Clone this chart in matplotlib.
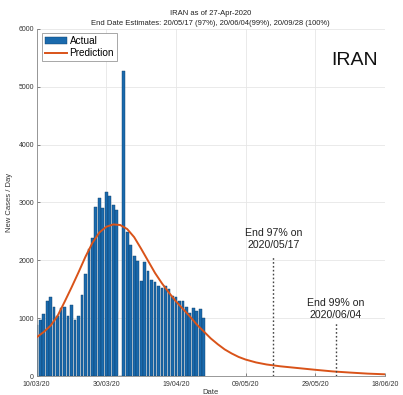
import matplotlib
matplotlib.use("Agg")
import matplotlib.pyplot as plt
import matplotlib.dates as mdates
import numpy as np
import pandas as pd

plt.rcParams['font.family'] = ['Liberation Sans', 'DejaVu Sans']

# daily new cases, starting 10/03/2020
start = '2020-03-10'
actual = [885, 960, 1075, 1293, 1362, 1200, 1046, 1178, 1190, 1046, 1236, 971,
          1029, 1408, 1765, 2196, 2386, 2926, 3076, 2903, 3185, 3116, 2961, 2869,
          0, 5275, 2484, 2271, 2081, 1995, 1638, 1966, 1822, 1661, 1621, 1564,
          1523, 1564, 1506, 1391, 1362, 1293, 1293, 1200, 1086, 1173, 1132, 1161, 1000]

# prediction curve (days after start, cases/day)
pred_days = [0, 2, 4, 6, 8, 10, 12, 14, 16, 18, 20, 22, 24, 26, 28, 30, 32, 34,
             36, 38, 40, 42, 44, 46, 48, 50, 52, 54, 56, 58, 60, 63, 66, 70, 75,
             80, 85, 90, 95, 100]
pred_vals = [670, 760, 870, 1040, 1280, 1530, 1790, 2060, 2300, 2480, 2580, 2620,
             2610, 2540, 2400, 2200, 1990, 1780, 1600, 1440, 1290, 1160, 1030, 890,
             770, 650, 550, 460, 390, 330, 285, 235, 200, 168, 138, 108, 80, 60, 42, 30]

end_dates = ['2020-05-17', '2020-06-04']
end_labels = ['End 97% on\n2020/05/17', 'End 99% on\n2020/06/04']
end_tops = [2070, 910]
end_text_y = [2180, 970]

x_ticks = ['2020-03-10', '2020-03-30', '2020-04-19', '2020-05-09', '2020-05-29', '2020-06-18']

dates = pd.date_range(start, periods=len(actual))
pred_dates = pd.Timestamp(start) + pd.to_timedelta(pred_days, unit='D')

fig = plt.figure(figsize=(4.03, 3.95), dpi=100)
ax = fig.add_axes([0.091, 0.048, 0.864, 0.879])

bars = ax.bar(dates, actual, width=0.8, color='#1a6aad', edgecolor='#0d3d66',
              linewidth=0.3, label='Actual', zorder=2)
line, = ax.plot(pred_dates, pred_vals, color='#D95319', linewidth=1.4,
                label='Prediction', zorder=3)

for d, top, lab, ty in zip(end_dates, end_tops, end_labels, end_text_y):
    d = pd.Timestamp(d)
    ax.plot([d, d], [0, top], color='#444444', linestyle=(0, (1.2, 1.6)),
            linewidth=1.0, zorder=3)
    ax.text(d, ty, lab, ha='center', va='bottom', fontsize=7.6,
            color='#222222', linespacing=1.2)

ax.text(pd.Timestamp('2020-06-16'), 5450, 'IRAN', ha='right', va='center',
        fontsize=14, color='#111111')

ax.set_xlim(pd.Timestamp(x_ticks[0]), pd.Timestamp(x_ticks[-1]))
ax.set_ylim(0, 6000)
ax.set_xticks(pd.to_datetime(x_ticks))
ax.xaxis.set_major_formatter(mdates.DateFormatter('%d/%m/%y'))
ax.set_yticks(np.arange(0, 6001, 1000))
ax.tick_params(labelsize=5, direction='in', length=2.5, width=0.5,
               colors='#555555', labelcolor='#333333', pad=2)
ax.tick_params(axis='x', pad=3.5)
ax.grid(True, color='#e6e6e6', linewidth=0.6, zorder=0)
ax.set_axisbelow(True)
for s in ['top', 'right']:
    ax.spines[s].set_visible(False)
for s in ['left', 'bottom']:
    ax.spines[s].set_color('#888888')
    ax.spines[s].set_linewidth(0.6)

ax.set_xlabel('Date', fontsize=5.5, color='#333333', labelpad=1)
ax.set_ylabel('New Cases / Day', fontsize=5.5, color='#333333', labelpad=4)
ax.set_title('IRAN as of 27-Apr-2020\n'
             'End Date Estimates: 20/05/17 (97%), 20/06/04(99%), 20/09/28 (100%)',
             fontsize=5.5, color='#222222', linespacing=1.5, pad=3)

leg = ax.legend(handles=[bars, line], labels=['Actual', 'Prediction'],
                loc='upper left', bbox_to_anchor=(0.014, 0.988), borderaxespad=0,
                fontsize=7.2, frameon=True, fancybox=False, framealpha=1,
                edgecolor='#999999', handlelength=2.2, handletextpad=0.3,
                borderpad=0.3, labelspacing=0.2)
leg.get_frame().set_linewidth(0.6)

fig.savefig('out.png', dpi=100)
